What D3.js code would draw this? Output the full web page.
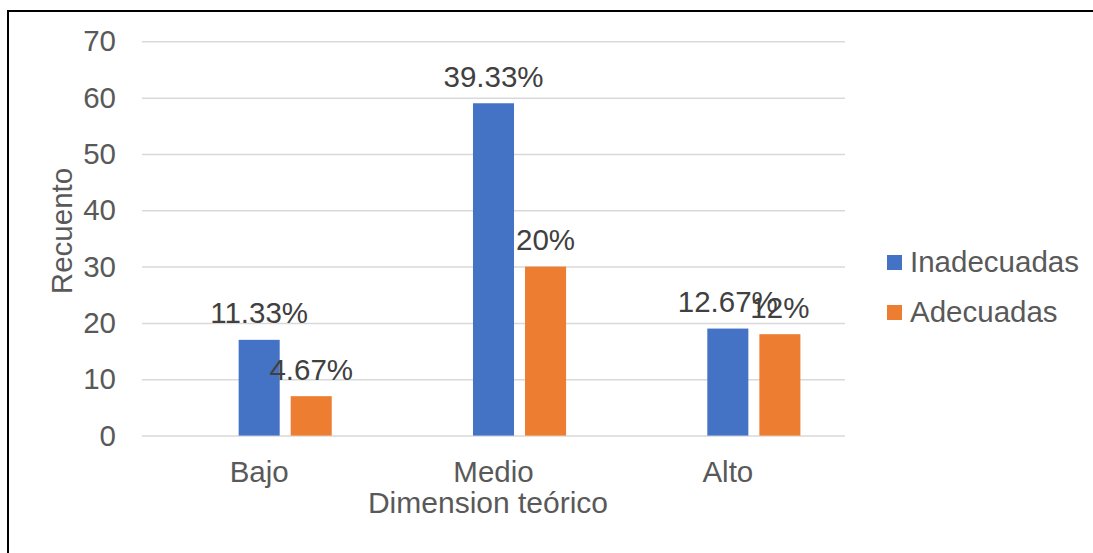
<!DOCTYPE html>
<html>
<head>
<meta charset="utf-8">
<script src="https://cdn.jsdelivr.net/npm/d3@7"></script>
<style>
  html, body { margin: 0; padding: 0; background: #fff; }
  svg { display: block; font-family: "Liberation Sans", Arial, sans-serif; }
</style>
</head>
<body>
<svg id="chart" width="1093" height="553"></svg>
<script>
const categories = ["Bajo", "Medio", "Alto"];
const seriesNames = ["Inadecuadas", "Adecuadas"];
const inadecuadas = [17, 59, 19];
const adecuadas = [7, 30, 18];
const inadecuadasLabels = ["11.33%", "39.33%", "12.67%"];
const adecuadasLabels = ["4.67%", "20%", "12%"];
const yTicks = [0, 10, 20, 30, 40, 50, 60, 70];
const colors = ["#4472C4", "#ED7D31"];

const svg = d3.select("#chart");
const FS = "29.5px";

// outer border (only top/left visible in the frame)
svg.append("line").attr("x1", 8).attr("x2", 1093).attr("y1", 11).attr("y2", 11)
  .attr("stroke", "#000").attr("stroke-width", 2);
svg.append("line").attr("x1", 8).attr("x2", 8).attr("y1", 10).attr("y2", 553)
  .attr("stroke", "#000").attr("stroke-width", 2);

const plot = { left: 142, right: 845, top: 41.3, bottom: 435.6 };

const y = d3.scaleLinear().domain([0, 70]).range([plot.bottom, plot.top]);
const x = d3.scaleBand().domain(categories).range([plot.left, plot.right]).padding(0);
const slot = d3.scaleBand().domain(["_", ...seriesNames])
  .range([44.6, x.bandwidth() - 44.6]).paddingInner(0.2115).paddingOuter(0);

// gridlines + y axis
const yAxis = d3.axisLeft(y).tickValues(yTicks).tickSize(-(plot.right - plot.left)).tickPadding(26);
const gy = svg.append("g").attr("transform", `translate(${plot.left},0)`).call(yAxis);
gy.select(".domain").remove();
gy.selectAll(".tick line").attr("stroke", "#D9D9D9").attr("stroke-width", 1.5);
gy.selectAll(".tick text").attr("fill", "#595959").style("font-size", FS)
  .style("font-family", "'Liberation Sans', Arial, sans-serif");

// x axis
const xAxis = d3.axisBottom(x).tickSize(0).tickPadding(25);
const gx = svg.append("g").attr("transform", `translate(0,${plot.bottom})`).call(xAxis);
gx.select(".domain").remove();
gx.selectAll(".tick text").attr("fill", "#595959").style("font-size", FS)
  .style("font-family", "'Liberation Sans', Arial, sans-serif");

// bars
const seriesData = [
  { name: seriesNames[0], values: inadecuadas, labels: inadecuadasLabels, color: colors[0] },
  { name: seriesNames[1], values: adecuadas, labels: adecuadasLabels, color: colors[1] }
];
seriesData.forEach(s => {
  const g = svg.append("g");
  g.selectAll("rect").data(categories).join("rect")
    .attr("x", (c) => x(c) + slot(s.name))
    .attr("y", (c, i) => y(s.values[i]))
    .attr("width", slot.bandwidth())
    .attr("height", (c, i) => y(0) - y(s.values[i]))
    .attr("fill", s.color);
  g.selectAll("text").data(categories).join("text")
    .attr("x", (c) => x(c) + slot(s.name) + slot.bandwidth() / 2)
    .attr("y", (c, i) => y(s.values[i]) - 16.5)
    .attr("text-anchor", "middle")
    .attr("fill", "#404040")
    .style("font-size", FS)
    .text((c, i) => s.labels[i]);
});

// axis titles
svg.append("text").attr("x", 488).attr("y", 513).attr("text-anchor", "middle")
  .attr("fill", "#595959").style("font-size", "30px").text("Dimension teórico");
svg.append("text").attr("transform", "translate(72,231) rotate(-90)").attr("text-anchor", "middle")
  .attr("fill", "#595959").style("font-size", FS).text("Recuento");

// legend
const legend = svg.append("g");
seriesData.forEach((s, i) => {
  const ly = 255 + i * 50;
  legend.append("rect").attr("x", 887).attr("y", ly).attr("width", 15).attr("height", 15).attr("fill", s.color);
  legend.append("text").attr("x", 910).attr("y", ly + 17).attr("fill", "#595959")
    .style("font-size", FS).text(s.name);
});
</script>
</body>
</html>
